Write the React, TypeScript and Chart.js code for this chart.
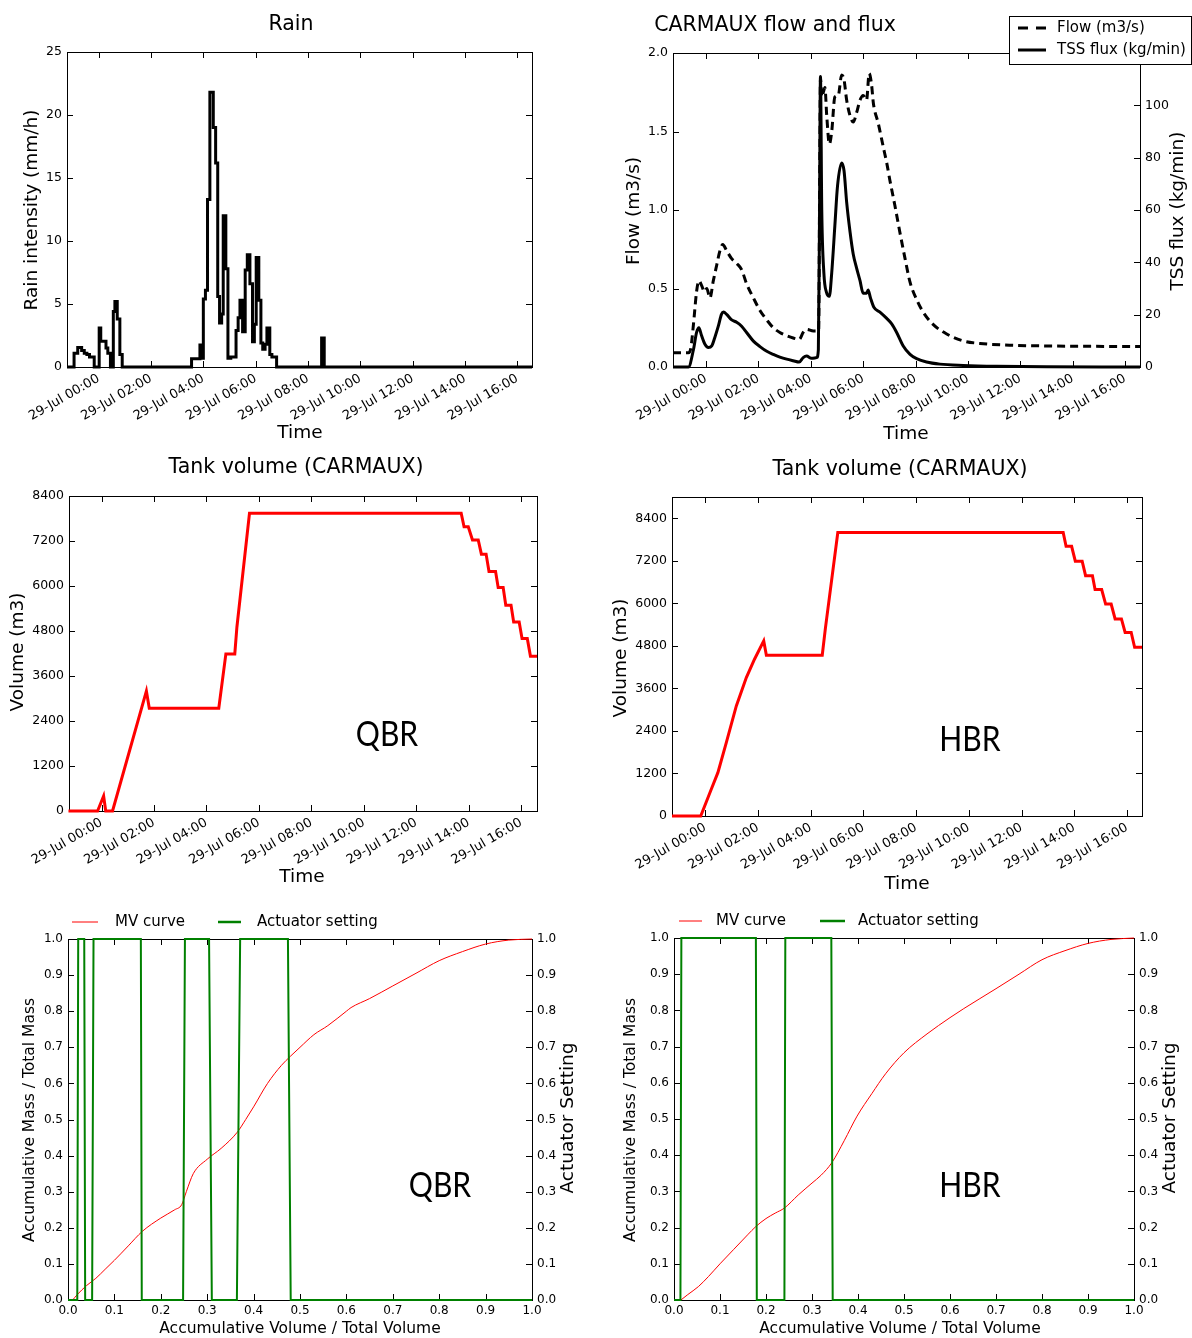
import React, { useEffect, useRef } from "react";
import { Chart, registerables } from "chart.js";
Chart.register(...registerables);

const FONT = "'DejaVu Sans', sans-serif";
const BIG_FONT = "Lato, 'Open Sans', sans-serif";

// ---------- shared time axis ----------
const timeTickHours = [0, 2, 4, 6, 8, 10, 12, 14, 16];
const timeTickLabel = (h: number) => `29-Jul ${String(h).padStart(2, "0")}:00`;

// ---------- Rain (hours from 29-Jul 00:00, mm/h, step) ----------
const rainHours = [-1.21, -0.94, -0.8, -0.65, -0.55, -0.45, -0.35, -0.17, 0.02, 0.08, 0.28, 0.35, 0.45, 0.56, 0.62, 0.71, 0.81, 0.9, 3.55, 3.87, 3.95, 4.0, 4.08, 4.16, 4.25, 4.38, 4.47, 4.55, 4.62, 4.7, 4.76, 4.86, 4.94, 5.05, 5.25, 5.33, 5.4, 5.5, 5.6, 5.68, 5.78, 5.88, 5.95, 6.02, 6.12, 6.2, 6.27, 6.36, 6.43, 6.54, 6.62, 6.8, 8.52, 8.62, 16.56];
const rainIntensity = [0, 1.1, 1.55, 1.3, 1.1, 1.0, 0.8, 0, 3.1, 2.05, 1.5, 1.1, 0, 4.4, 5.2, 3.8, 1.0, 0, 0.65, 1.75, 0.7, 5.4, 6.1, 13.3, 21.8, 19.0, 16.2, 5.6, 3.5, 4.2, 12.0, 7.8, 0.7, 0.8, 2.9, 3.9, 5.3, 2.8, 7.7, 8.9, 6.6, 2.0, 3.4, 8.7, 5.3, 1.9, 1.4, 1.8, 3.1, 1.0, 0.8, 0, 2.3, 0, 0];

// ---------- CARMAUX flow (m3/s) ----------
const flowHours = [-1.26, -0.67, -0.58, -0.48, -0.36, -0.27, -0.17, -0.06, 0.03, 0.15, 0.28, 0.41, 0.53, 0.64, 0.79, 0.98, 1.17, 1.36, 1.55, 1.81, 2.06, 2.32, 2.57, 2.82, 3.08, 3.33, 3.56, 3.71, 3.84, 4.1, 4.3, 4.34, 4.37, 4.42, 4.48, 4.54, 4.61, 4.71, 4.8, 4.92, 5.05, 5.18, 5.27, 5.37, 5.5, 5.62, 5.75, 5.88, 6.0, 6.13, 6.23, 6.32, 6.39, 6.58, 6.77, 6.9, 7.02, 7.21, 7.4, 7.6, 7.79, 8.04, 8.29, 8.68, 9.19, 9.82, 10.46, 11.73, 13.0, 16.57];
const flowM3s = [0.09, 0.09, 0.12, 0.27, 0.48, 0.55, 0.52, 0.48, 0.5, 0.44, 0.55, 0.65, 0.74, 0.78, 0.74, 0.69, 0.66, 0.62, 0.53, 0.44, 0.36, 0.3, 0.25, 0.22, 0.2, 0.185, 0.176, 0.22, 0.24, 0.23, 0.23, 1.2, 1.84, 1.72, 1.75, 1.78, 1.6, 1.42, 1.5, 1.72, 1.73, 1.86, 1.83, 1.7, 1.6, 1.56, 1.62, 1.7, 1.73, 1.7, 1.87, 1.8, 1.68, 1.55, 1.4, 1.3, 1.19, 1.03, 0.86, 0.69, 0.54, 0.43, 0.35, 0.27, 0.21, 0.166, 0.15, 0.138, 0.134, 0.13];

// ---------- CARMAUX TSS flux (kg/min) ----------
const fluxHours = [-1.26, -0.67, -0.48, -0.36, -0.27, -0.17, -0.04, 0.09, 0.22, 0.34, 0.47, 0.59, 0.67, 0.79, 0.98, 1.17, 1.36, 1.55, 1.81, 2.06, 2.32, 2.57, 2.82, 3.08, 3.33, 3.56, 3.71, 3.84, 4.03, 4.23, 4.29, 4.33, 4.37, 4.42, 4.5, 4.6, 4.71, 4.8, 4.92, 5.02, 5.18, 5.27, 5.37, 5.5, 5.62, 5.75, 5.88, 6.0, 6.13, 6.19, 6.28, 6.41, 6.64, 6.9, 7.09, 7.28, 7.53, 7.79, 8.04, 8.42, 8.93, 9.82, 11.09, 13.0, 16.57];
const fluxKgMin = [0, 0, 6.6, 13.2, 15, 12, 8.7, 7.5, 8.1, 11.4, 15.6, 20.1, 21, 20.1, 18, 17.1, 15.6, 13.2, 9.9, 7.8, 6.0, 4.8, 3.8, 3.0, 2.4, 1.9, 3.6, 4.2, 3.3, 3.6, 6.6, 51, 111, 60, 36, 28.5, 27, 36, 54, 69, 78, 75, 63, 51.6, 43.2, 37.8, 33, 28.2, 28.2, 29.4, 26.4, 22.8, 21, 18.6, 16.5, 13.2, 8.0, 4.8, 3.2, 1.9, 1.1, 0.6, 0.25, 0.05, 0];

// ---------- Tank volume QBR (m3) ----------
const tankQbrHours = [-1.26, -0.15, 0.08, 0.16, 0.42, 1.71, 1.82, 4.47, 4.74, 5.08, 5.16, 5.64, 13.71, 13.82, 13.98, 14.14, 14.36, 14.48, 14.66, 14.77, 15.02, 15.12, 15.31, 15.41, 15.61, 15.71, 15.92, 16.03, 16.23, 16.35, 16.6];
const tankQbrVolume = [0, 0, 400, 0, 0, 3200, 2740, 2740, 4190, 4190, 4900, 7940, 7940, 7580, 7580, 7230, 7230, 6850, 6850, 6390, 6390, 5960, 5960, 5490, 5490, 5040, 5040, 4600, 4600, 4130, 4130];

// ---------- Tank volume HBR (m3) ----------
const tankHbrHours = [-1.26, -0.17, 0.23, 0.48, 0.8, 1.18, 1.56, 1.87, 2.22, 2.32, 4.44, 4.56, 5.03, 13.58, 13.69, 13.9, 14.04, 14.3, 14.43, 14.69, 14.79, 15.04, 15.19, 15.4, 15.55, 15.79, 15.93, 16.16, 16.29, 16.57];
const tankHbrVolume = [0, 0, 753, 1223, 2070, 3105, 3905, 4423, 4940, 4535, 4535, 5300, 8000, 8000, 7610, 7610, 7190, 7190, 6780, 6780, 6390, 6390, 5980, 5980, 5560, 5560, 5180, 5180, 4760, 4760];

// ---------- MV curves ----------
const mvQbrVol = [0.01, 0.02, 0.04, 0.06, 0.08, 0.1, 0.13, 0.16, 0.2, 0.23, 0.245, 0.255, 0.27, 0.3, 0.33, 0.365, 0.383, 0.4, 0.43, 0.46, 0.48, 0.5, 0.53, 0.56, 0.6, 0.61, 0.65, 0.7, 0.75, 0.8, 0.85, 0.9, 0.95, 1.0];
const mvQbrMass = [0, 0.015, 0.04, 0.06, 0.085, 0.11, 0.15, 0.19, 0.227, 0.25, 0.264, 0.3, 0.35, 0.39, 0.42, 0.465, 0.5, 0.535, 0.6, 0.65, 0.676, 0.7, 0.735, 0.76, 0.8, 0.81, 0.835, 0.87, 0.905, 0.94, 0.965, 0.986, 0.997, 1.0];
const actQbrVol = [0, 0.02, 0.022, 0.035, 0.037, 0.052, 0.055, 0.157, 0.159, 0.248, 0.252, 0.304, 0.31, 0.364, 0.371, 0.474, 0.48, 1.0];
const actQbrSetting = [0, 0, 1, 1, 0, 0, 1, 1, 0, 0, 1, 1, 0, 0, 1, 1, 0, 0];

const mvHbrVol = [0.015, 0.03, 0.053, 0.075, 0.1, 0.13, 0.16, 0.178, 0.2, 0.22, 0.24, 0.27, 0.3, 0.32, 0.343, 0.37, 0.398, 0.43, 0.46, 0.5, 0.55, 0.6, 0.63, 0.7, 0.75, 0.8, 0.85, 0.9, 0.95, 1.0];
const mvHbrMass = [0, 0.015, 0.037, 0.065, 0.1, 0.14, 0.18, 0.203, 0.225, 0.24, 0.254, 0.29, 0.323, 0.345, 0.379, 0.44, 0.508, 0.57, 0.625, 0.683, 0.735, 0.78, 0.805, 0.86, 0.9, 0.94, 0.965, 0.985, 0.996, 1.0];
const actHbrVol = [0, 0.014, 0.016, 0.178, 0.18, 0.24, 0.242, 0.342, 0.345, 1.0];
const actHbrSetting = [0, 0, 1, 1, 0, 0, 1, 1, 0, 0];

// ---------- tick value lists ----------
const rainTicks = [0, 5, 10, 15, 20, 25];
const flowTicks = [0, 0.5, 1.0, 1.5, 2.0];
const fluxTicks = [0, 20, 40, 60, 80, 100, 120];
const volumeTicks = [0, 1200, 2400, 3600, 4800, 6000, 7200, 8400];
const fracTicks = [0, 0.1, 0.2, 0.3, 0.4, 0.5, 0.6, 0.7, 0.8, 0.9, 1.0];

const zip = (xs: number[], ys: number[]) => xs.map((x, i) => ({ x, y: ys[i] }));

type Txt = { t: string; x: number; y: number; size: number; rot?: number; font?: string; sx?: number };
type Leg = { x1: number; x2: number; y: number; color: string; lw: number; dash?: number[]; t: string; tx: number; size: number };
type Panel = {
  box: [number, number, number, number];
  plot: [number, number, number, number];
  texts: Txt[];
  legend?: Leg[];
  legendBox?: [number, number, number, number];
  datasets: any[];
  scales: any;
};

const fixedTicks = (vals: number[]) => (s: any) => {
  s.ticks = vals.map((v) => ({ value: v }));
};

const baseAxis = (size: number) => ({
  grid: { display: false, drawTicks: false },
  border: { display: false },
  ticks: { color: "#000", font: { family: FONT, size }, padding: 5, autoSkip: false },
});

const timeAxis = (min: number, max: number) => {
  const a: any = baseAxis(13);
  return {
    ...a,
    type: "linear",
    min,
    max,
    afterBuildTicks: fixedTicks(timeTickHours),
    ticks: { ...a.ticks, minRotation: 30, maxRotation: 30, padding: 4, callback: (v: number) => timeTickLabel(v) },
  };
};

const valueAxis = (min: number, max: number, ticks: number[], fmt: (v: number) => string, size: number, position = "left") => {
  const a: any = baseAxis(size);
  return {
    ...a,
    type: "linear",
    position,
    min,
    max,
    afterBuildTicks: fixedTicks(ticks),
    ticks: { ...a.ticks, callback: (v: number) => fmt(v) },
  };
};

const fracAxis = (position: string, axis: "x" | "y") => {
  const a: any = baseAxis(12);
  return {
    ...a,
    type: "linear",
    position,
    min: 0,
    max: 1,
    afterBuildTicks: fixedTicks(fracTicks),
    ticks: { ...a.ticks, minRotation: 0, maxRotation: 0, padding: axis === "x" ? 4 : 5, callback: (v: number) => v.toFixed(1) },
  };
};

const lineDs = (data: any[], color: string, width: number, extra: any = {}) => ({
  data,
  borderColor: color,
  backgroundColor: color,
  borderWidth: width,
  pointRadius: 0,
  fill: false,
  tension: 0,
  clip: false,
  ...extra,
});

const panels: Panel[] = [
  {
    box: [0, 0, 596, 450],
    plot: [67, 52, 532, 367],
    texts: [
      { t: "Rain", x: 291, y: 25, size: 20.5 },
      { t: "Time", x: 300, y: 433, size: 18.5 },
      { t: "Rain intensity (mm/h)", x: 32, y: 210, size: 18.5, rot: -90 },
    ],
    datasets: [lineDs(zip(rainHours, rainIntensity), "#000", 3, { stepped: "before" })],
    scales: { x: timeAxis(-1.21, 16.56), y: valueAxis(0, 25, rainTicks, (v) => String(v), 12.5) },
  },
  {
    box: [596, 0, 596, 450],
    plot: [673, 53, 1140, 367],
    texts: [
      { t: "CARMAUX flow and flux", x: 775, y: 26, size: 20.5 },
      { t: "Time", x: 906, y: 434, size: 18.5 },
      { t: "Flow (m3/s)", x: 634, y: 211, size: 18.5, rot: -90 },
      { t: "TSS flux (kg/min)", x: 1178, y: 211, size: 18.5, rot: -90 },
    ],
    legendBox: [1009, 16, 1191, 64],
    legend: [
      { x1: 1018, x2: 1046, y: 28, color: "#000", lw: 3, dash: [10, 8], t: "Flow (m3/s)", tx: 1057, size: 15 },
      { x1: 1018, x2: 1046, y: 50, color: "#000", lw: 3, t: "TSS flux (kg/min)", tx: 1057, size: 15 },
    ],
    datasets: [
      lineDs(zip(flowHours, flowM3s), "#000", 3, { borderDash: [8, 5], cubicInterpolationMode: "monotone", yAxisID: "y" }),
      lineDs(zip(fluxHours, fluxKgMin), "#000", 3, { cubicInterpolationMode: "monotone", yAxisID: "y1" }),
    ],
    scales: {
      x: timeAxis(-1.26, 16.57),
      y: valueAxis(0, 2, flowTicks, (v) => v.toFixed(1), 12.5),
      y1: valueAxis(0, 120, fluxTicks, (v) => String(v), 12.5, "right"),
    },
  },
  {
    box: [0, 450, 596, 450],
    plot: [69, 496, 537, 811],
    texts: [
      { t: "Tank volume (CARMAUX)", x: 296, y: 468, size: 20.5 },
      { t: "Time", x: 302, y: 877, size: 18.5 },
      { t: "Volume (m3)", x: 18, y: 652, size: 18.5, rot: -90 },
      { t: "QBR", x: 387, y: 735, size: 35, font: BIG_FONT, sx: 0.86 },
    ],
    datasets: [lineDs(zip(tankQbrHours, tankQbrVolume), "#ff0000", 3)],
    scales: { x: timeAxis(-1.24, 16.6), y: valueAxis(0, 8400, volumeTicks, (v) => String(v), 12.5) },
  },
  {
    box: [596, 450, 596, 450],
    plot: [672, 497, 1142, 816],
    texts: [
      { t: "Tank volume (CARMAUX)", x: 900, y: 470, size: 20.5 },
      { t: "Time", x: 907, y: 884, size: 18.5 },
      { t: "Volume (m3)", x: 621, y: 658, size: 18.5, rot: -90 },
      { t: "HBR", x: 970, y: 740, size: 35, font: BIG_FONT, sx: 0.86 },
    ],
    datasets: [lineDs(zip(tankHbrHours, tankHbrVolume), "#ff0000", 3)],
    scales: { x: timeAxis(-1.26, 16.57), y: valueAxis(0, 9000, volumeTicks, (v) => String(v), 12.5) },
  },
  {
    box: [0, 900, 596, 438],
    plot: [68, 939, 532, 1300],
    texts: [
      { t: "Accumulative Volume / Total Volume", x: 300, y: 1329, size: 15.5 },
      { t: "Accumulative Mass / Total Mass", x: 30, y: 1120, size: 15.5, rot: -90 },
      { t: "Actuator Setting", x: 568, y: 1118, size: 18.5, rot: -90 },
      { t: "QBR", x: 440, y: 1186, size: 35, font: BIG_FONT, sx: 0.86 },
    ],
    legend: [
      { x1: 72, x2: 98, y: 922, color: "#ff0000", lw: 1, t: "MV curve", tx: 115, size: 15 },
      { x1: 218, x2: 241, y: 922, color: "#008000", lw: 2.5, t: "Actuator setting", tx: 257, size: 15 },
    ],
    datasets: [
      lineDs(zip(actQbrVol, actQbrSetting), "#008000", 2, { yAxisID: "y1" }),
      lineDs(zip(mvQbrVol, mvQbrMass), "#ff0000", 1, { cubicInterpolationMode: "monotone", yAxisID: "y" }),
    ],
    scales: { x: fracAxis("bottom", "x"), y: fracAxis("left", "y"), y1: fracAxis("right", "y") },
  },
  {
    box: [596, 900, 596, 438],
    plot: [674, 938, 1134, 1300],
    texts: [
      { t: "Accumulative Volume / Total Volume", x: 900, y: 1329, size: 15.5 },
      { t: "Accumulative Mass / Total Mass", x: 631, y: 1120, size: 15.5, rot: -90 },
      { t: "Actuator Setting", x: 1170, y: 1118, size: 18.5, rot: -90 },
      { t: "HBR", x: 970, y: 1186, size: 35, font: BIG_FONT, sx: 0.86 },
    ],
    legend: [
      { x1: 679, x2: 702, y: 921, color: "#ff0000", lw: 1, t: "MV curve", tx: 716, size: 15 },
      { x1: 820, x2: 845, y: 921, color: "#008000", lw: 2.5, t: "Actuator setting", tx: 858, size: 15 },
    ],
    datasets: [
      lineDs(zip(actHbrVol, actHbrSetting), "#008000", 2, { yAxisID: "y1" }),
      lineDs(zip(mvHbrVol, mvHbrMass), "#ff0000", 1, { cubicInterpolationMode: "monotone", yAxisID: "y" }),
    ],
    scales: { x: fracAxis("bottom", "x"), y: fracAxis("left", "y"), y1: fracAxis("right", "y") },
  },
];

function PanelChart({ p }: { p: Panel }) {
  const ref = useRef<HTMLCanvasElement>(null);
  const [bx, by, bw, bh] = p.box;
  useEffect(() => {
    const [l, t, r, b] = p.plot;
    const leftW = l - bx;
    const rightW = bx + bw - r;
    const topPad = t - by;
    const bottomH = by + bh - b;
    const scales: any = {};
    Object.keys(p.scales).forEach((k) => (scales[k] = { ...p.scales[k] }));
    scales.x.afterFit = (s: any) => { s.height = bottomH; };
    scales.y.afterFit = (s: any) => { s.width = leftW; };
    if (scales.y1) scales.y1.afterFit = (s: any) => { s.width = rightW; };

    const decor = {
      id: "decor",
      beforeDatasetsDraw(chart: any) {
        const { ctx, chartArea } = chart;
        const { left, top, right, bottom } = chartArea;
        ctx.save();
        ctx.strokeStyle = "#000";
        ctx.lineWidth = 1;
        ctx.strokeRect(Math.round(left) + 0.5, Math.round(top) + 0.5, Math.round(right - left), Math.round(bottom - top));
        const L = 6;
        const seg = (x1: number, y1: number, x2: number, y2: number) => {
          ctx.beginPath();
          ctx.moveTo(x1, y1);
          ctx.lineTo(x2, y2);
          ctx.stroke();
        };
        const xs = chart.scales.x;
        xs.ticks.forEach((tk: any) => {
          const px = Math.round(xs.getPixelForValue(tk.value)) + 0.5;
          seg(px, bottom, px, bottom - L);
          seg(px, top, px, top + L);
        });
        const ys = chart.scales.y;
        ys.ticks.forEach((tk: any) => {
          const py = Math.round(ys.getPixelForValue(tk.value)) + 0.5;
          seg(left, py, left + L, py);
          if (!chart.scales.y1) seg(right, py, right - L, py);
        });
        const y1 = chart.scales.y1;
        if (y1) {
          y1.ticks.forEach((tk: any) => {
            const py = Math.round(y1.getPixelForValue(tk.value)) + 0.5;
            seg(right, py, right - L, py);
          });
        }
        ctx.restore();
      },
      afterDraw(chart: any) {
        const ctx = chart.ctx as CanvasRenderingContext2D;
        ctx.save();
        ctx.fillStyle = "#000";
        ctx.textBaseline = "middle";
        p.texts.forEach((tx) => {
          ctx.save();
          ctx.translate(tx.x - bx, tx.y - by);
          if (tx.rot) ctx.rotate((tx.rot * Math.PI) / 180);
          if (tx.sx) ctx.scale(tx.sx, 1);
          ctx.font = `${tx.size}px ${tx.font || FONT}`;
          ctx.textAlign = "center";
          ctx.fillText(tx.t, 0, 0);
          ctx.restore();
        });
        if (p.legendBox) {
          const [x1, y1, x2, y2] = p.legendBox;
          ctx.fillStyle = "#fff";
          ctx.fillRect(x1 - bx, y1 - by, x2 - x1, y2 - y1);
          ctx.strokeStyle = "#000";
          ctx.lineWidth = 1;
          ctx.strokeRect(x1 - bx + 0.5, y1 - by + 0.5, x2 - x1, y2 - y1);
        }
        (p.legend || []).forEach((lg) => {
          ctx.save();
          ctx.strokeStyle = lg.color;
          ctx.lineWidth = lg.lw;
          ctx.setLineDash(lg.dash || []);
          ctx.beginPath();
          ctx.moveTo(lg.x1 - bx, lg.y - by);
          ctx.lineTo(lg.x2 - bx, lg.y - by);
          ctx.stroke();
          ctx.restore();
          ctx.fillStyle = "#000";
          ctx.font = `${lg.size}px ${FONT}`;
          ctx.textAlign = "left";
          ctx.textBaseline = "middle";
          ctx.fillText(lg.t, lg.tx - bx, lg.y - by);
        });
        ctx.restore();
      },
    };

    const chart = new Chart(ref.current as HTMLCanvasElement, {
      type: "line",
      data: { datasets: p.datasets.map((d) => ({ ...d })) },
      options: {
        animation: false,
        responsive: false,
        maintainAspectRatio: false,
        devicePixelRatio: 1,
        layout: { padding: { top: topPad, left: 0, bottom: 0, right: scales.y1 ? 0 : rightW } },
        plugins: { legend: { display: false }, title: { display: false }, tooltip: { enabled: false } },
        scales,
      } as any,
      plugins: [decor as any],
    });
    return () => chart.destroy();
  }, []);
  return (
    <canvas
      ref={ref}
      width={bw}
      height={bh}
      style={{ position: "absolute", left: bx, top: by, width: bw, height: bh }}
    />
  );
}

export default function App() {
  useEffect(() => {
    document.body.style.margin = "0";
  }, []);
  return (
    <div style={{ position: "absolute", left: 0, top: 0, width: 1192, height: 1338, background: "#fff", overflow: "hidden" }}>
      {panels.map((p, i) => (
        <PanelChart key={i} p={p} />
      ))}
    </div>
  );
}
